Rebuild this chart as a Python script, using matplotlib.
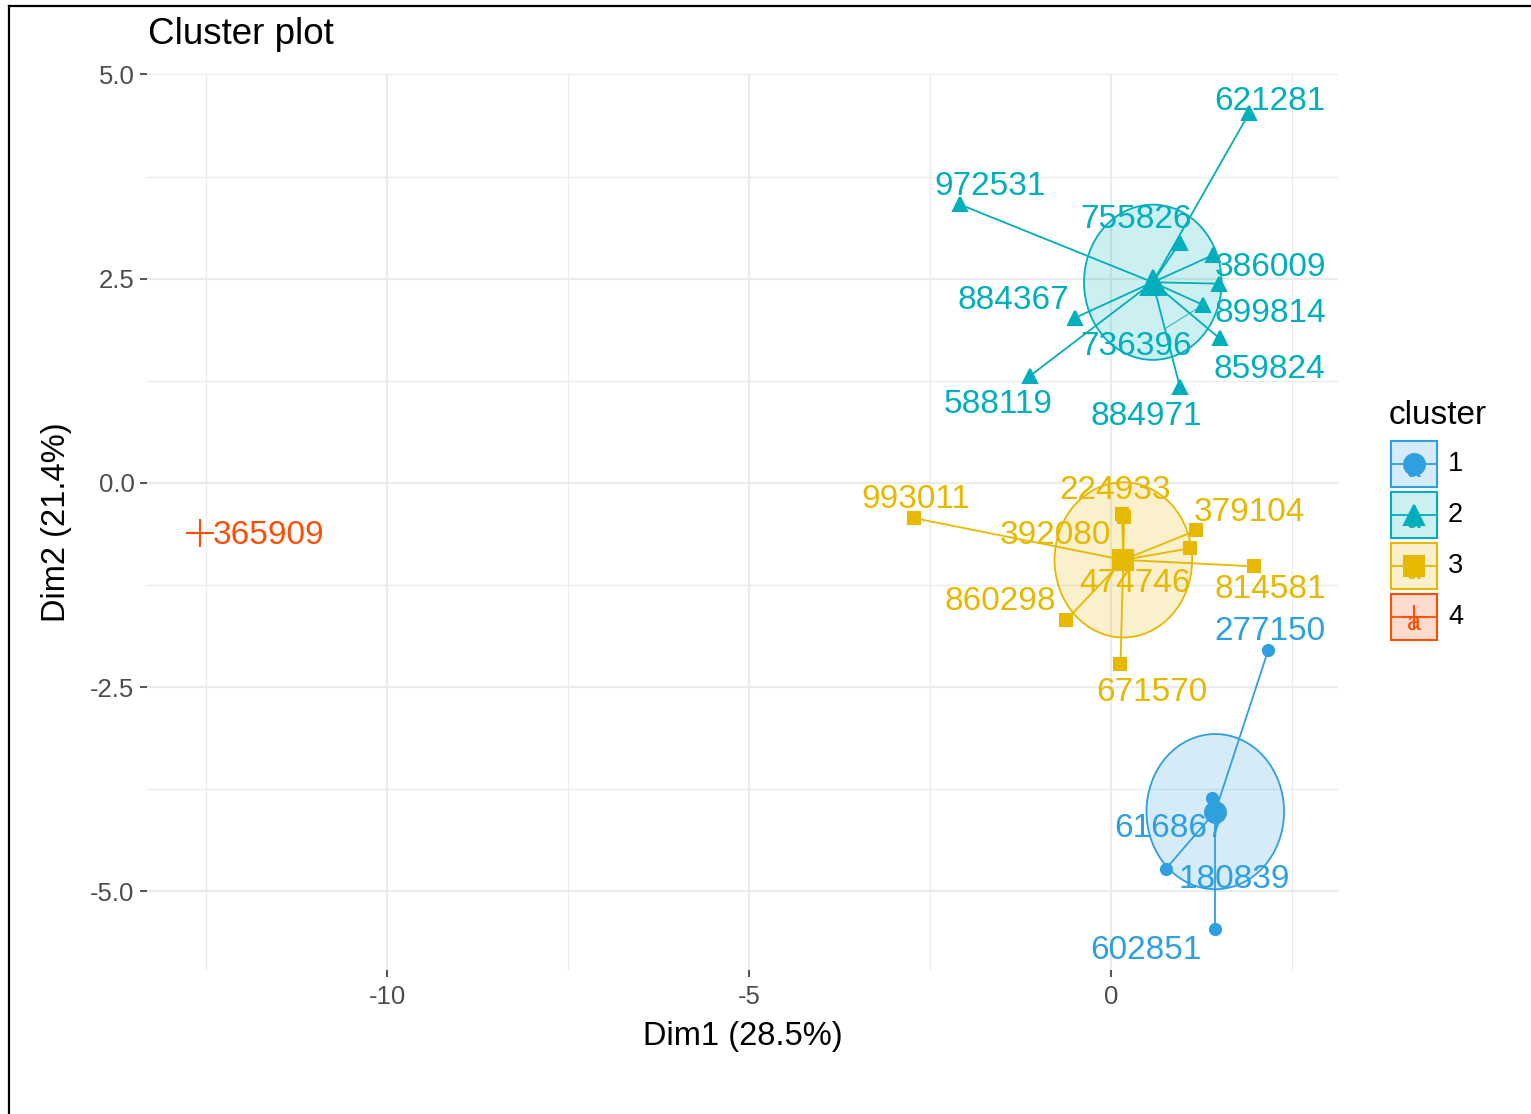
import matplotlib
matplotlib.use("Agg")
import matplotlib.pyplot as plt
from matplotlib.patches import Ellipse, Rectangle
import numpy as np

plt.rcParams['font.family'] = ['Liberation Sans', 'DejaVu Sans']

# cluster members (Dim1, Dim2)
c1_names = ["277150", "616867", "180839", "602851"]
c1_x = [2.17, 1.39, 0.76, 1.44]
c1_y = [-2.05, -3.86, -4.72, -5.46]

c2_names = ["621281", "972531", "755826", "386009", "899814",
            "736396", "859824", "884367", "588119", "884971"]
c2_x = [1.91, -2.09, 0.95, 1.41, 1.49, 1.27, 1.50, -0.50, -1.12, 0.95]
c2_y = [4.53, 3.41, 2.94, 2.79, 2.44, 2.18, 1.77, 2.02, 1.31, 1.18]

c3_names = ["993011", "224933", "392080", "379104", "474746",
            "814581", "860298", "671570"]
c3_x = [-2.72, 0.15, 0.18, 1.18, 1.09, 1.97, -0.62, 0.13]
c3_y = [-0.43, -0.38, -0.42, -0.58, -0.80, -1.02, -1.68, -2.22]

c4_names = ["365909"]
c4_x = [-12.58]
c4_y = [-0.61]

cluster_ids = ["1", "2", "3", "4"]
x_ticks = [-10, -5, 0]
y_ticks = [-5.0, -2.5, 0.0, 2.5, 5.0]

# styling
colors = ["#2E9FDF", "#00AFBB", "#E7B800", "#FC4E07"]
markers = ["o", "^", "s", "+"]
small_ms = [8, 9.5, 8, 9]
big_ms = [15, 18, 15, 20]
ellipse_level = 0.95

# label offsets (pixels) as placed by the repel step
label_off = {
    "621281": (21, 14), "972531": (30, 21), "755826": (-44, 26),
    "386009": (57, -9), "899814": (51, -27), "736396": (-67, -39),
    "859824": (50, -28), "884367": (-62, 20), "588119": (-32, -26),
    "884971": (-34, -27),
    "993011": (2, 22), "224933": (-7, 27), "392080": (-69, -15),
    "379104": (53, 21), "474746": (-55, -32), "814581": (17, -20),
    "860298": (-66, 22), "671570": (31, -25),
    "277150": (2, 22), "616867": (-42, -27), "180839": (68, -8),
    "602851": (-69, -18),
    "365909": (68, 0),
}

W, H = 1531, 1114
fig = plt.figure(figsize=(W / 100, H / 100), dpi=100)
ax = fig.add_axes([147 / W, 1 - 970 / H, (1338 - 147) / W, (970 - 74) / H])
ax.set_xlim(-13.315, 3.135)
ax.set_ylim(-5.961, 5.006)

ax.set_xticks(x_ticks)
ax.set_xticklabels([f"{v:d}" for v in x_ticks])
ax.set_yticks(y_ticks)
ax.set_yticklabels([f"{v:.1f}" for v in y_ticks])
ax.set_xticks([-12.5, -7.5, -2.5, 2.5], minor=True)
ax.set_yticks([-3.75, -1.25, 1.25, 3.75], minor=True)
ax.grid(which='major', color='#EBEBEB', lw=1.6)
ax.grid(which='minor', color='#EBEBEB', lw=0.9)
ax.set_axisbelow(True)
ax.tick_params(which='major', length=5, width=1.2, color='#333333',
               labelcolor='#4D4D4D', labelsize=18.5, pad=4)
ax.tick_params(axis='x', which='major', pad=6)
ax.tick_params(which='minor', length=0)
for s in ax.spines.values():
    s.set_visible(False)

clusters = [(c1_names, c1_x, c1_y), (c2_names, c2_x, c2_y),
            (c3_names, c3_x, c3_y), (c4_names, c4_x, c4_y)]

for k, (names, xs, ys) in enumerate(clusters):
    col = colors[k]
    xs = np.array(xs)
    ys = np.array(ys)
    cx, cy = xs.mean(), ys.mean()
    if len(xs) > 1:
        ax.add_patch(Ellipse((cx, cy), 2 * ellipse_level, 2 * ellipse_level,
                             facecolor=col, alpha=0.2, edgecolor='none', zorder=2))
        ax.add_patch(Ellipse((cx, cy), 2 * ellipse_level, 2 * ellipse_level,
                             fill=False, edgecolor=col, lw=1.3, zorder=2))
    for x, y in zip(xs, ys):
        ax.plot([cx, x], [cy, y], color=col, lw=1.3, zorder=3)
    ax.plot(xs, ys, markers[k], ms=small_ms[k], color=col, mew=1.5,
            ls='none', zorder=4)
    ax.plot([cx], [cy], markers[k], ms=big_ms[k], color=col, mew=1.5,
            ls='none', zorder=4)
    for name, x, y in zip(names, xs, ys):
        dx, dy = label_off[name]
        arrow = None
        if name == "736396":
            arrow = dict(arrowstyle='-', color=col, lw=0.6, shrinkA=0, shrinkB=4)
        ax.annotate(name, (x, y), xytext=(dx, dy - 3), textcoords='offset pixels',
                    ha='center', va='center', fontsize=24, color=col,
                    zorder=5, arrowprops=arrow)

fig.text(148 / W, 1 - 35 / H, "Cluster plot", ha='left', va='center', fontsize=26.5)
fig.text(743 / W, 1 - 1036 / H, "Dim1 (28.5%)", ha='center', va='center', fontsize=23.5)
fig.text(57 / W, 1 - 522 / H, "Dim2 (21.4%)", ha='center', va='center',
         fontsize=23.5, rotation=90)

# legend and outer frame drawn in pixel space
lg = fig.add_axes([0, 0, 1, 1], zorder=10)
lg.set_xlim(0, W)
lg.set_ylim(H, 0)
lg.axis('off')
lg.patch.set_alpha(0)

lg.text(1389, 415, "cluster", ha='left', va='center', fontsize=24)
key_tops = [441, 492, 543, 594]
for k, lab in enumerate(cluster_ids):
    col = colors[k]
    top = key_tops[k]
    lg.add_patch(Rectangle((1391, top), 46, 46, facecolor=col, alpha=0.2, edgecolor='none'))
    lg.add_patch(Rectangle((1391, top), 46, 46, fill=False, edgecolor=col, lw=1.5))
    cy = top + 23
    lg.plot([1391, 1437], [cy, cy], color=col, lw=1.3)
    lg.text(1414, cy + 6, "a", ha='center', va='center', fontsize=18, color=col)
    lg.plot([1414], [cy], markers[k], ms=15 if k < 3 else 18, color=col, mew=1.5)
    lg.text(1448, cy, lab, ha='left', va='center', fontsize=19.5)

lg.plot([9, W], [6, 6], color='black', lw=1.6)
lg.plot([9, 9], [6, H], color='black', lw=1.6)

fig.savefig("out.png", dpi=100)
